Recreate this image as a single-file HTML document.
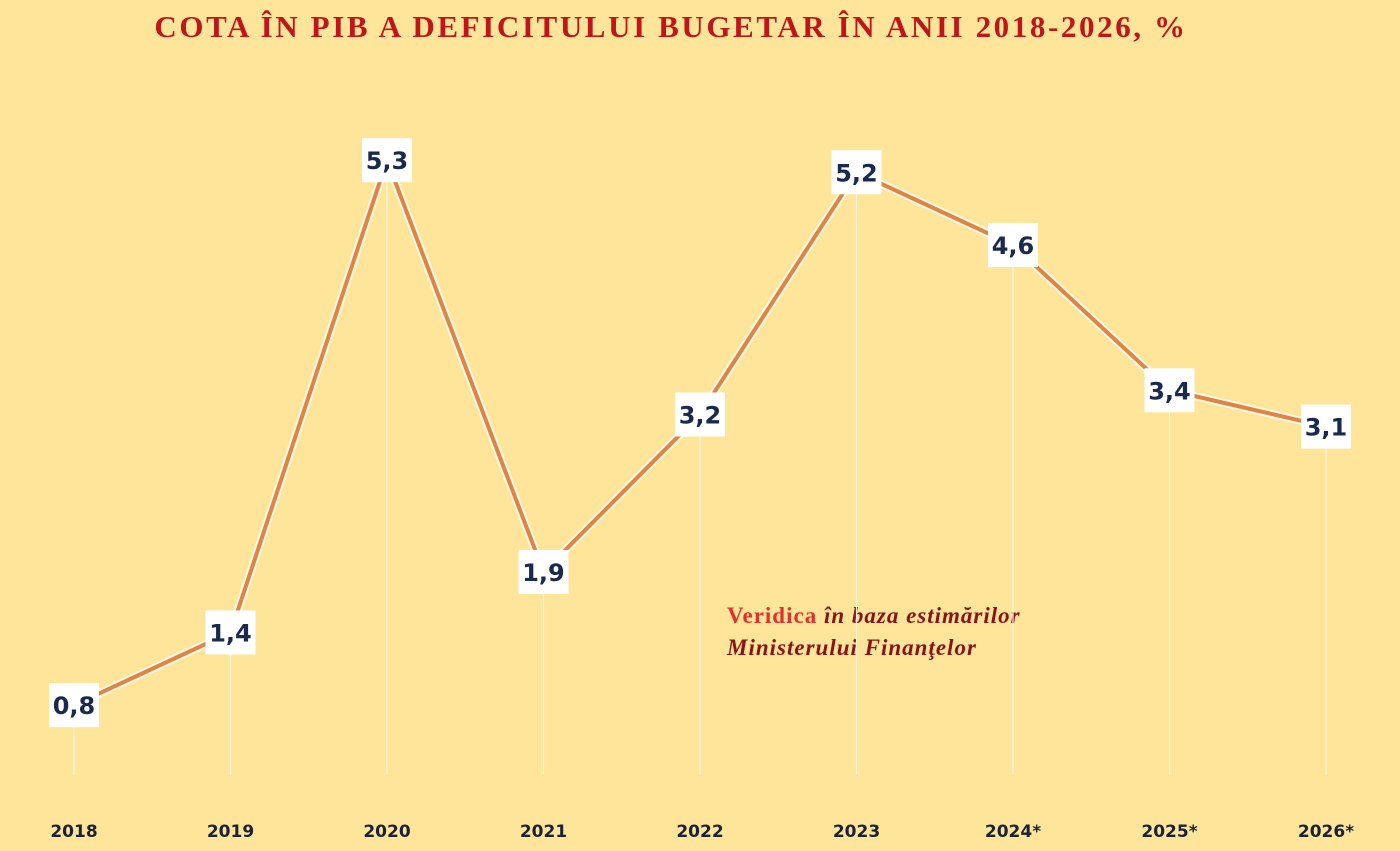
<!DOCTYPE html>
<html><head><meta charset="utf-8"><style>
html,body{margin:0;padding:0;background:#fee59a;}
body{width:1400px;height:851px;overflow:hidden;position:relative;}
svg{position:absolute;left:0;top:0;}
</style></head><body>
<svg id="chart" width="1400" height="851">
<rect width="1400" height="851" fill="#fee59a"/>
<text x="671" y="37" text-anchor="middle" font-family="Liberation Serif, serif" font-weight="bold" font-size="31" letter-spacing="2.6" fill="#c0161a">COTA ÎN PIB A DEFICITULUI BUGETAR ÎN ANII 2018-2026, %</text>
<text x="727" y="623" font-family="Liberation Serif, serif" font-weight="bold" font-size="23" letter-spacing="1"><tspan fill="#e2312d">Veridica</tspan><tspan fill="#8b1218" font-style="italic"> în baza estimărilor</tspan></text>
<text x="727" y="655" font-family="Liberation Serif, serif" font-weight="bold" font-style="italic" font-size="23" letter-spacing="1" fill="#8b1218">Ministerului Finanţelor</text>
<g id="marks"></g>
</svg>
<script>
const categories=["2018","2019","2020","2021","2022","2023","2024*","2025*","2026*"];
const values=[0.8,1.4,5.3,1.9,3.2,5.2,4.6,3.4,3.1];
const valueLabels=["0,8","1,4","5,3","1,9","3,2","5,2","4,6","3,4","3,1"];
const NS="http://www.w3.org/2000/svg";
const g=document.getElementById('marks');
function xs(i){return 74+i*156.5;}
function ys(v){return 802-v*121.1;}
function el(t,a){const e=document.createElementNS(NS,t);for(const k in a)e.setAttribute(k,a[k]);g.appendChild(e);return e;}
categories.forEach((c,i)=>{
 const d=el('line',{x1:xs(i),x2:xs(i),y1:ys(values[i]),y2:775,stroke:'#fff6dc','stroke-width':1.2});
 
 
 const t=el('text',{x:xs(i),y:837,'text-anchor':'middle','font-family':'DejaVu Sans, sans-serif','font-weight':'bold','font-size':17,fill:'#1a2238'});
 t.textContent=c;
 
 
});
const pts=values.map((v,i)=>xs(i)+','+ys(v)).join(' ');
const o=el('polyline',{points:pts,fill:'none',stroke:'#fff8e6','stroke-width':8,'stroke-linejoin':'round'});


const l=el('polyline',{points:pts,fill:'none',stroke:'#de8444','stroke-width':4,'stroke-linejoin':'round'});


values.forEach((v,i)=>{
 const r=el('rect',{x:xs(i)-25,y:ys(v)-22,width:50,height:44,fill:'#ffffff'});
 
 
 const t=el('text',{x:xs(i),y:ys(v)+9,'text-anchor':'middle','font-family':'DejaVu Sans, sans-serif','font-weight':'bold','font-size':24,fill:'#1a2a4e'});
 t.textContent=valueLabels[i];
 
 
});
</script>
</body></html>
